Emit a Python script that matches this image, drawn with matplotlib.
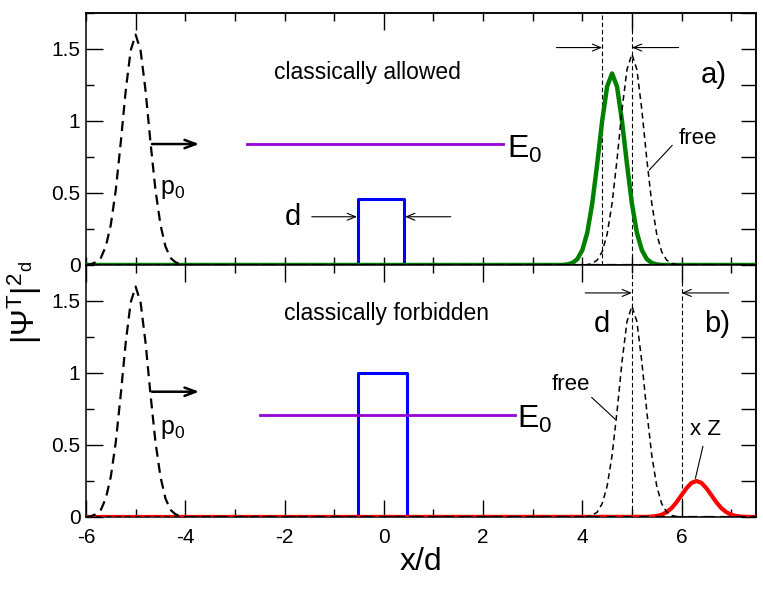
import matplotlib
matplotlib.use("Agg")
import matplotlib.pyplot as plt
from matplotlib.ticker import MultipleLocator, NullFormatter

plt.rcParams["font.family"] = ["Liberation Sans", "DejaVu Sans"]
plt.rcParams["mathtext.fontset"] = "custom"
plt.rcParams["mathtext.rm"] = "Liberation Sans"
plt.rcParams["mathtext.it"] = "Liberation Sans:italic"
plt.rcParams["mathtext.default"] = "regular"
plt.rcParams["axes.unicode_minus"] = False

# incident packet (same in both panels)
inc_x = [-6.0, -5.9, -5.8, -5.7, -5.6, -5.5, -5.4, -5.3, -5.2, -5.1, -5.0,
         -4.9, -4.8, -4.7, -4.6, -4.5, -4.4, -4.3, -4.2, -4.1, -4.0, 7.5]
inc_y = [0.0, 0.005, 0.02, 0.05, 0.13, 0.28, 0.52, 0.85, 1.21, 1.49, 1.60,
         1.49, 1.21, 0.85, 0.52, 0.28, 0.13, 0.05, 0.02, 0.005, 0.0, 0.0]

# free packet after propagation
free_x = [-6.0, 4.0, 4.1, 4.2, 4.3, 4.4, 4.5, 4.6, 4.7, 4.8, 4.9, 5.0,
          5.1, 5.2, 5.3, 5.4, 5.5, 5.6, 5.7, 5.8, 5.9, 6.0, 7.5]
free_y = [0.0, 0.0, 0.003, 0.011, 0.034, 0.092, 0.214, 0.428, 0.733, 1.077, 1.357, 1.465,
          1.357, 1.077, 0.733, 0.428, 0.214, 0.092, 0.034, 0.011, 0.003, 0.0, 0.0]

# transmitted packet, classically allowed (a)
trans_a_x = [-6.0, 3.6, 3.7, 3.8, 3.9, 4.0, 4.1, 4.2, 4.3, 4.4, 4.5, 4.6,
             4.7, 4.8, 4.9, 5.0, 5.1, 5.2, 5.3, 5.4, 5.5, 5.6, 7.5]
trans_a_y = [0.0, 0.0, 0.004, 0.014, 0.041, 0.103, 0.224, 0.426, 0.701, 1.0, 1.239, 1.33,
             1.239, 1.0, 0.701, 0.426, 0.224, 0.103, 0.041, 0.014, 0.004, 0.0, 0.0]

# transmitted packet x Z, classically forbidden (b)
trans_b_x = [-6.0, 5.3, 5.4, 5.5, 5.6, 5.7, 5.8, 5.9, 6.0, 6.1, 6.2, 6.3,
             6.4, 6.5, 6.6, 6.7, 6.8, 6.9, 7.0, 7.1, 7.2, 7.3, 7.5]
trans_b_y = [0.0, 0.001, 0.003, 0.007, 0.016, 0.034, 0.062, 0.103, 0.152, 0.200, 0.237, 0.25,
             0.237, 0.200, 0.152, 0.103, 0.062, 0.034, 0.016, 0.007, 0.003, 0.001, 0.0]

# barriers
barrier_a_x = [-0.52, -0.52, 0.41, 0.41]
barrier_a_y = [0.0, 0.46, 0.46, 0.0]
barrier_b_x = [-0.51, -0.51, 0.46, 0.46]
barrier_b_y = [0.0, 1.0, 1.0, 0.0]

# energy levels
e0_a_x = [-2.75, 2.4]
e0_a_y = [0.84, 0.84]
e0_b_x = [-2.5, 2.65]
e0_b_y = [0.71, 0.71]

# peak position markers
peaks_a = [4.4, 5.0]
peaks_b = [5.0, 6.0]

W, H = 763, 591
fig = plt.figure(figsize=(W / 100, H / 100), dpi=100)
left, width = 86 / W, (756 - 86) / W
ax1 = fig.add_axes([left, 1 - 265 / H, width, (265 - 13) / H])
ax2 = fig.add_axes([left, 1 - 517 / H, width, (517 - 265) / H])

dash_in = (4.5, 2.8)
dash_free = (3.8, 2.6)


def style_axes(ax, bottom_labels):
    ax.set_xlim(-6, 7.5)
    ax.set_ylim(0, 1.75)
    for s in ax.spines.values():
        s.set_linewidth(1.1)
    ax.xaxis.set_major_locator(MultipleLocator(2))
    ax.xaxis.set_minor_locator(MultipleLocator(1))
    ax.yaxis.set_minor_locator(MultipleLocator(0.25))
    ax.set_yticks([0, 0.5, 1, 1.5])
    ax.set_yticklabels(["0", "0.5", "1", "1.5"])
    ax.tick_params(which="both", direction="in", width=1, labelsize=15)
    ax.tick_params(which="major", length=12)
    ax.tick_params(which="minor", length=6)
    ax.tick_params(axis="y", pad=4)
    ax.tick_params(axis="x", pad=8, labelbottom=bottom_labels)
    # right side: all ticks long, no labels
    sy = ax.secondary_yaxis("right")
    sy.yaxis.set_major_locator(MultipleLocator(0.25))
    sy.yaxis.set_major_formatter(NullFormatter())
    sy.tick_params(direction="in", length=11, width=1)
    sy.spines["right"].set_linewidth(1.1)


style_axes(ax1, False)
style_axes(ax2, True)
ax1.tick_params(axis="x", which="major", length=6)
ax2.tick_params(axis="x", which="both", top=True)

sx = ax1.secondary_xaxis("top")
sx.xaxis.set_major_locator(MultipleLocator(5))
sx.xaxis.set_minor_locator(MultipleLocator(1))
sx.xaxis.set_major_formatter(NullFormatter())
sx.tick_params(which="both", direction="in", width=1)
sx.tick_params(which="major", length=12)
sx.tick_params(which="minor", length=6)
sx.spines["top"].set_linewidth(1.1)

thin_arrow = dict(arrowstyle="->,head_length=0.6,head_width=0.25", lw=0.8,
                  color="black", shrinkA=0, shrinkB=0)
p_arrow = dict(arrowstyle="->,head_length=0.8,head_width=0.3", lw=1.8,
               color="black", shrinkA=0, shrinkB=0)

# ---- panel a ----
ax1.plot(trans_a_x, trans_a_y, color="#008000", lw=3.2, zorder=3)
ax1.plot(inc_x, inc_y, color="black", lw=1.6, dashes=dash_in, zorder=4)
ax1.plot(free_x, free_y, color="black", lw=1.1, dashes=dash_free, zorder=4)
ax1.plot(barrier_a_x, barrier_a_y, color="#0000ff", lw=2.2, zorder=2)
ax1.plot(e0_a_x, e0_a_y, color="#9400d3", lw=2.0, zorder=2)
for xv in peaks_a:
    ax1.axvline(xv, color="black", lw=0.8, dashes=(4, 2.5), zorder=1)

ax1.text(-0.33, 1.34, "classically allowed", fontsize=16.5, ha="center", va="center")
ax1.text(6.65, 1.32, "a)", fontsize=21, ha="center", va="center")
ax1.text(2.48, 0.80, "E$_0$", fontsize=23, ha="left", va="center")
ax1.text(-4.25, 0.53, "p$_0$", fontsize=18, ha="center", va="center")
ax1.annotate("", xy=(-3.72, 0.84), xytext=(-4.67, 0.84), arrowprops=p_arrow)
ax1.text(-1.83, 0.33, "d", fontsize=21, ha="center", va="center")
ax1.annotate("", xy=(-0.54, 0.335), xytext=(-1.45, 0.335), arrowprops=thin_arrow)
ax1.annotate("", xy=(0.43, 0.335), xytext=(1.35, 0.335), arrowprops=thin_arrow)
ax1.annotate("", xy=(4.4, 1.51), xytext=(3.48, 1.51), arrowprops=thin_arrow)
ax1.annotate("", xy=(5.0, 1.51), xytext=(5.94, 1.51), arrowprops=thin_arrow)
ax1.text(6.32, 0.88, "free", fontsize=16, ha="center", va="center")
ax1.plot([5.81, 5.35], [0.83, 0.66], color="black", lw=0.8)

# ---- panel b ----
ax2.plot(trans_b_x, trans_b_y, color="#ff0000", lw=3.0, zorder=3)
ax2.plot(inc_x, inc_y, color="black", lw=1.6, dashes=dash_in, zorder=4)
ax2.plot(free_x, free_y, color="black", lw=1.1, dashes=dash_free, zorder=4)
ax2.plot(barrier_b_x, barrier_b_y, color="#0000ff", lw=2.2, zorder=2)
ax2.plot(e0_b_x, e0_b_y, color="#9400d3", lw=2.0, zorder=2)
for xv in peaks_b:
    ax2.axvline(xv, color="black", lw=0.8, dashes=(4, 2.5), zorder=1)

ax2.text(0.06, 1.41, "classically forbidden", fontsize=16.5, ha="center", va="center")
ax2.text(6.71, 1.34, "b)", fontsize=21, ha="center", va="center")
ax2.text(4.40, 1.34, "d", fontsize=21, ha="center", va="center")
ax2.text(2.68, 0.68, "E$_0$", fontsize=23, ha="left", va="center")
ax2.text(-4.25, 0.61, "p$_0$", fontsize=18, ha="center", va="center")
ax2.annotate("", xy=(-3.72, 0.87), xytext=(-4.67, 0.87), arrowprops=p_arrow)
ax2.annotate("", xy=(5.0, 1.556), xytext=(4.06, 1.556), arrowprops=thin_arrow)
ax2.annotate("", xy=(6.0, 1.556), xytext=(6.95, 1.556), arrowprops=thin_arrow)
ax2.text(3.76, 0.92, "free", fontsize=16, ha="center", va="center")
ax2.plot([4.19, 4.66], [0.83, 0.68], color="black", lw=0.8)
ax2.text(6.48, 0.61, "x Z", fontsize=16, ha="center", va="center")
ax2.plot([6.43, 6.28], [0.49, 0.27], color="black", lw=0.8)

ax2.set_xlabel("x/d", fontsize=23, labelpad=0)

fig.text(25 / W, 1 - 308 / H, r"$|\Psi^{\rm T}|^{2}$", fontsize=23, rotation=90,
         ha="center", va="center")
fig.text(27 / W, 1 - 266 / H, "d", fontsize=13, rotation=90, ha="center", va="center")

fig.savefig("out.png", dpi=100)
